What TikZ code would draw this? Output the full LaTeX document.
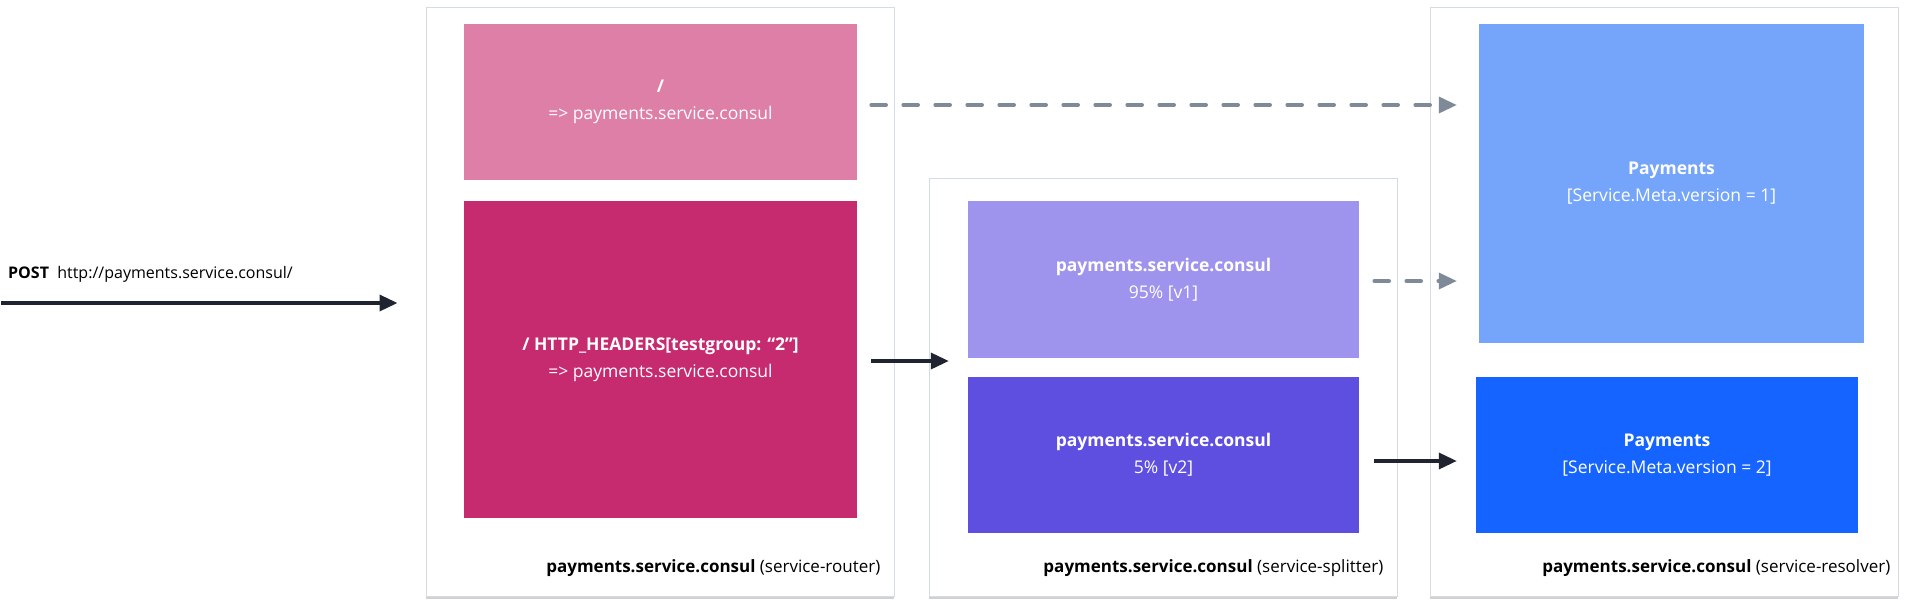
\documentclass[tikz,border=0pt]{standalone}
\usepackage{fontspec}
\setmainfont{Open Sans}
\usepackage{xcolor}
\usepackage{tikz}
\usetikzlibrary{positioning}
\usetikzlibrary{arrows.meta}
\usetikzlibrary{shadows}
\definecolor{panelline}{HTML}{D5DDE4}
\definecolor{routeA}{HTML}{DE7FA7}
\definecolor{routeB}{HTML}{C62A6F}
\definecolor{splitA}{HTML}{9F94ED}
\definecolor{splitB}{HTML}{5F4FE1}
\definecolor{resolveA}{HTML}{75A5FA}
\definecolor{resolveB}{HTML}{1664FF}
\definecolor{flowdark}{HTML}{1F2430}
\definecolor{flowgray}{HTML}{7F8A99}
\tikzset{
    panel/.style = {draw=panelline, fill=white, line width=1pt, inner sep=0pt,
        drop shadow={shadow xshift=0pt, shadow yshift=-3pt, opacity=0.18, fill=black}},
    box/.style = {text=white, align=center, inner sep=0pt,
        font=\fontsize{17.5}{27}\selectfont},
    paneltag/.style = {anchor=east, inner sep=0pt, font=\fontsize{17}{20}\selectfont},
    flow/.style = {draw=flowdark, line width=3.5pt, -{Triangle[length=18pt,width=16pt]}},
    maybeflow/.style = {draw=flowgray, line width=3.5pt, line cap=round,
        dash pattern=on 15pt off 17pt, -{Triangle[length=18pt,width=16pt]}}
}

\begin{document}
\begin{tikzpicture}[x=1pt, y=-1pt]
    \useasboundingbox (0,0) rectangle (1908,603);
    % panels
    \node [panel, minimum width=468pt, minimum height=589pt] (router) at (660, 301.5) {};
    \node [panel, minimum width=468pt, minimum height=418pt] (splitter) at (1163, 387) {};
    \node [panel, minimum width=468pt, minimum height=589pt] (resolver) at (1664, 301.5) {};
    \node [paneltag] (routertag) at ([xshift=-14pt, yshift=28pt]router.south east)
        {\textbf{payments.service.consul} (service-router)};
    \node [paneltag] (splittertag) at ([xshift=-14pt, yshift=28pt]splitter.south east)
        {\textbf{payments.service.consul} (service-splitter)};
    \node [paneltag] (resolvertag) at ([xshift=-8pt, yshift=28pt]resolver.south east)
        {\textbf{payments.service.consul} (service-resolver)};
    % routes
    \node [box, fill=routeA, minimum width=393pt, minimum height=156pt] (routeA) at (660.5, 102)
        {\textbf{/}\\=> payments.service.consul};
    \node [box, fill=routeB, minimum width=393pt, minimum height=317pt] (routeB) at (660.5, 359.5)
        {\textbf{/ HTTP\_HEADERS[testgroup: “2”]}\\=> payments.service.consul};
    % splits
    \node [box, fill=splitA, minimum width=391pt, minimum height=157pt] (splitA) at (1163.5, 279.5)
        {\textbf{payments.service.consul}\\95\% [v1]};
    \node [box, fill=splitB, minimum width=391pt, minimum height=156pt] (splitB) at (1163.5, 455)
        {\textbf{payments.service.consul}\\5\% [v2]};
    % subsets
    \node [box, fill=resolveA, minimum width=385pt, minimum height=319pt] (resolveA) at (1671.5, 183.5)
        {\textbf{Payments}\\{}[Service.Meta.version = 1]};
    \node [box, fill=resolveB, minimum width=382pt, minimum height=156pt] (resolveB) at (1667, 455)
        {\textbf{Payments}\\{}[Service.Meta.version = 2]};
    % request
    \coordinate (client) at (1, 303);
    \node [anchor=west, inner sep=0pt, font=\fontsize{16}{18}\selectfont] (request) at (8, 274)
        {\textbf{POST}\ \ http://payments.service.consul/};
    \draw [flow] (client) to ([xshift=-28pt]router.west |- client);
    \draw [maybeflow] ([xshift=14pt, yshift=-3pt]routeA.east) to ([xshift=-22pt, yshift=-3pt]resolveA.west |- routeA.east);
    \draw [flow] ([xshift=14pt, yshift=-1.5pt]routeB.east) to ([xshift=-19pt, yshift=-1.5pt]splitA.west |- routeB.east);
    \draw [maybeflow] ([xshift=15pt, yshift=-1.5pt]splitA.east) to ([xshift=-22pt, yshift=-1.5pt]resolveA.west |- splitA.east);
    \draw [flow] ([xshift=15pt, yshift=-6pt]splitB.east) to ([xshift=-19pt, yshift=-6pt]resolveB.west |- splitB.east);
\end{tikzpicture}
\end{document}
